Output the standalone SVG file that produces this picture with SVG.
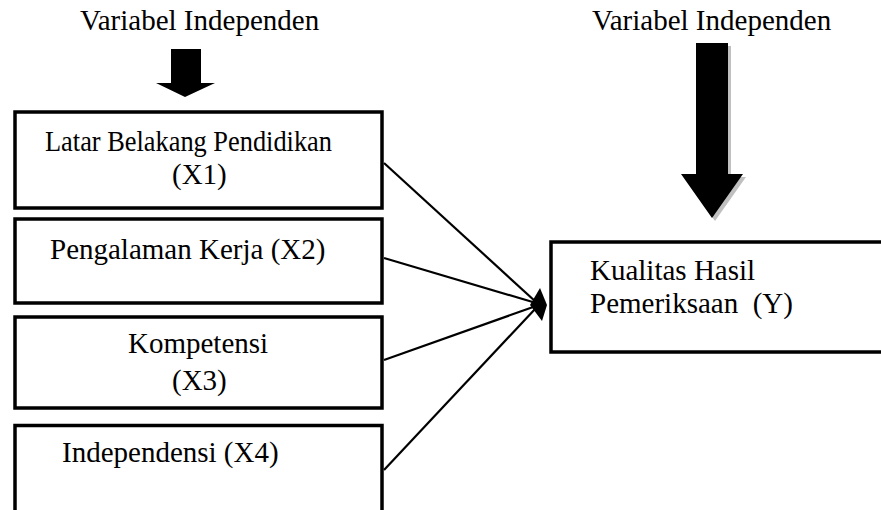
<svg xmlns="http://www.w3.org/2000/svg" width="881" height="510" viewBox="0 0 881 510">
<style>
text{font-family:'Liberation Serif','Times New Roman',Times,serif;font-size:29px;fill:#000}
.box{fill:#fff;stroke:#000;stroke-width:3.5}
.conn{stroke:#000;stroke-width:2.2;fill:none}
</style>
<rect width="881" height="510" fill="#fff"/>
<g id="label-left"><text x="80" y="30">Variabel Independen</text></g>
<g id="label-right"><text x="592" y="30">Variabel Independen</text></g>
<g id="arrow-left">
<polygon points="171,49 201,49 201,83 215,83 185,97 156,83 171,83" fill="#000"/>
</g>
<g id="arrow-right">
<polygon points="699,46 731,46 731,177 746,177 715,221 684,177 699,177" fill="#c0c0c0"/>
<polygon points="696,43 728,43 728,174 743,174 712,218 681,174 696,174" fill="#000"/>
</g>
<g id="x1">
<rect class="box" x="15" y="112" width="367" height="96"/>
<text x="45" y="151" textLength="287" lengthAdjust="spacingAndGlyphs">Latar Belakang Pendidikan</text>
<text x="172" y="184">(X1)</text>
</g>
<g id="x2">
<rect class="box" x="15" y="219" width="367" height="84"/>
<text x="50" y="259">Pengalaman Kerja (X2)</text>
</g>
<g id="x3">
<rect class="box" x="15" y="317" width="367" height="91"/>
<text x="128" y="353">Kompetensi</text>
<text x="172" y="390">(X3)</text>
</g>
<g id="x4">
<rect class="box" x="15" y="425.5" width="367" height="100"/>
<text x="62" y="462">Independensi (X4)</text>
</g>
<g id="y">
<rect class="box" x="551" y="242" width="340" height="110"/>
<text x="590" y="280">Kualitas Hasil</text>
<text x="590" y="313" xml:space="preserve">Pemeriksaan  (Y)</text>
</g>
<g id="connectors">
<line class="conn" x1="384" y1="163" x2="536" y2="302"/>
<line class="conn" x1="384" y1="258" x2="536" y2="303"/>
<line class="conn" x1="384" y1="360" x2="536" y2="306"/>
<line class="conn" x1="384" y1="470" x2="536" y2="308"/>
<polygon points="540,288 547,305 542,321 530,305" fill="#000"/>
</g>
</svg>
